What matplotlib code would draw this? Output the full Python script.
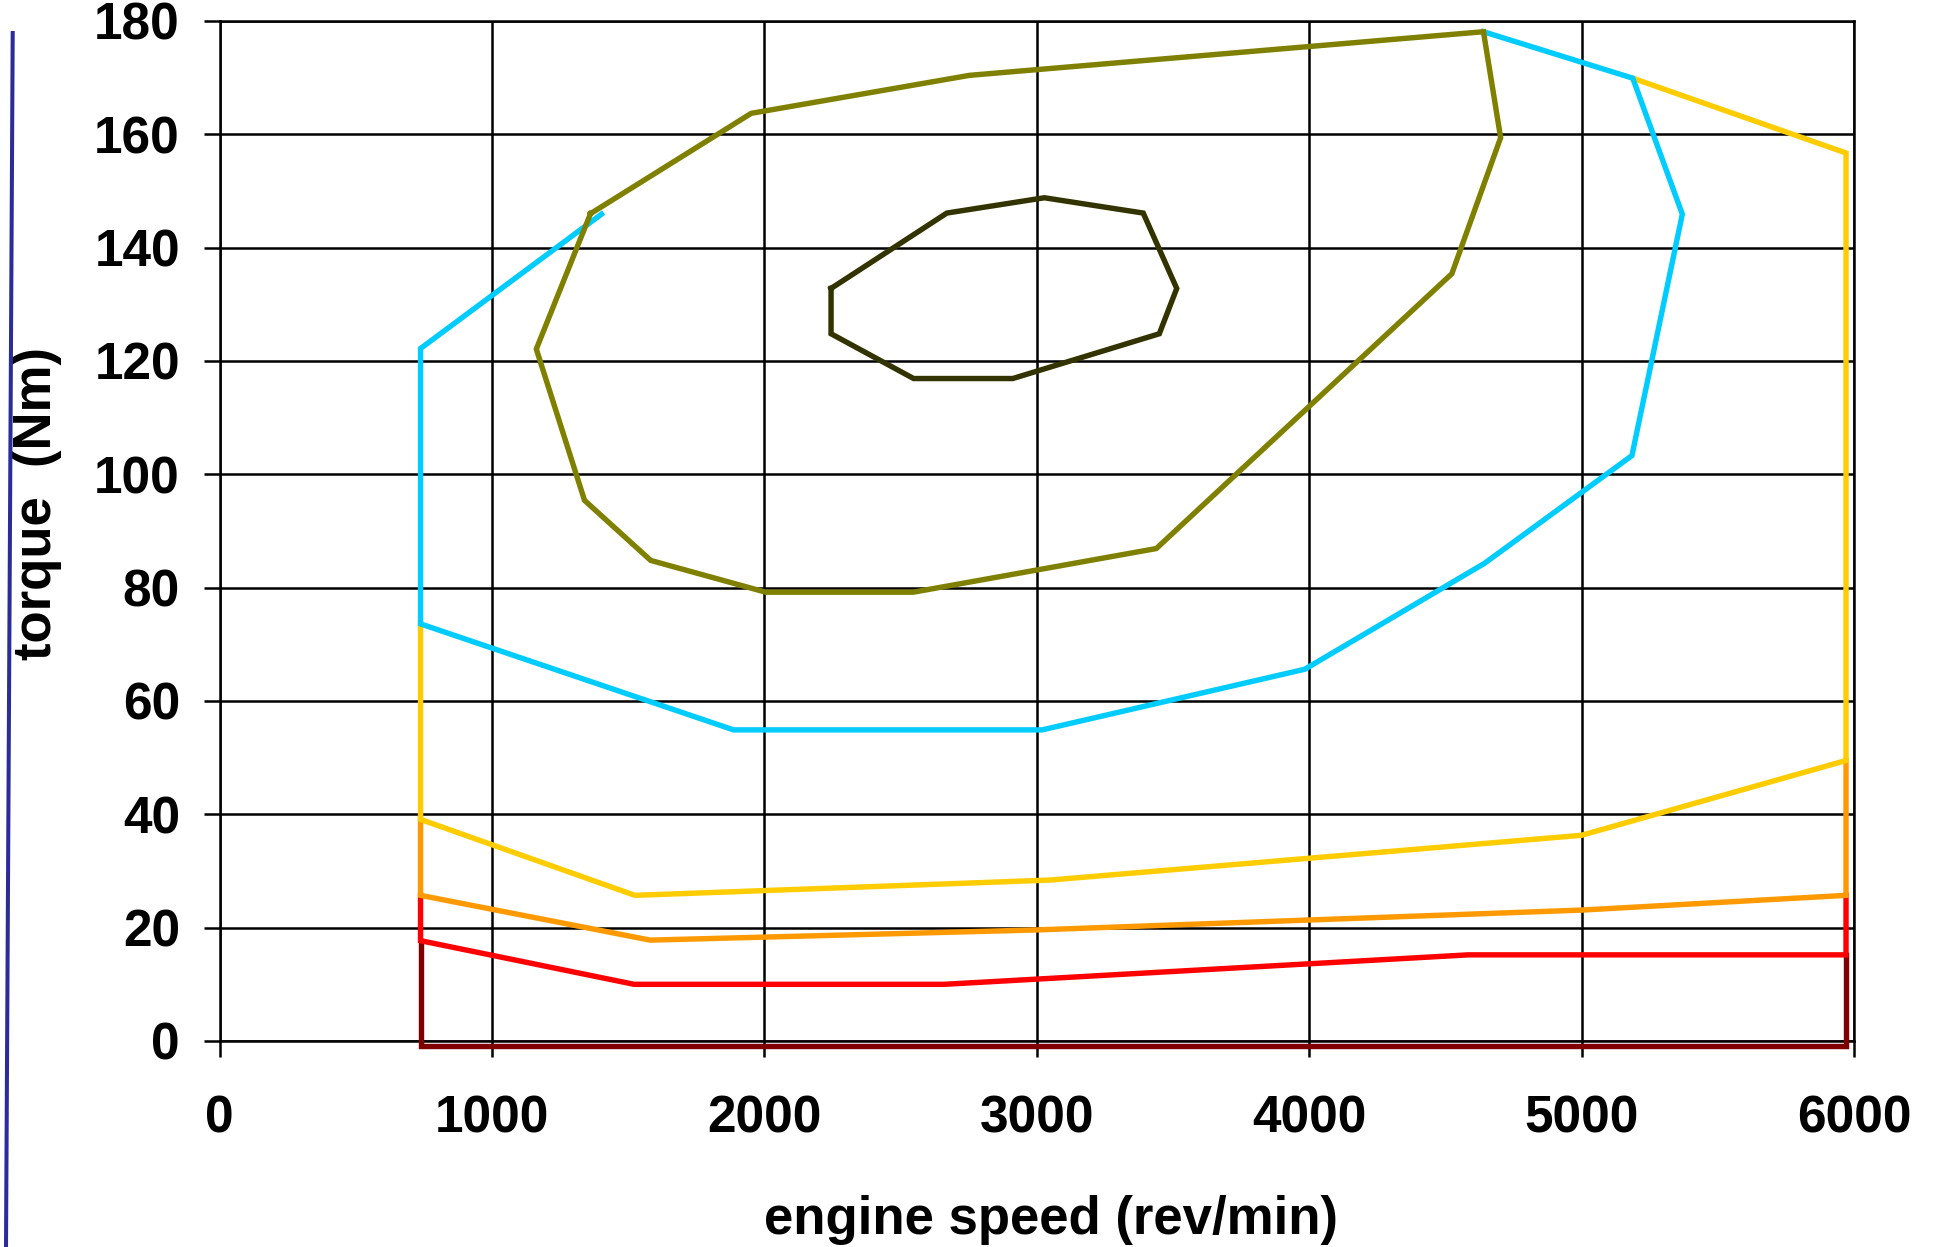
import matplotlib
matplotlib.use('Agg')
import matplotlib.pyplot as plt
from matplotlib.lines import Line2D

plt.rcParams['font.family'] = ['Liberation Sans', 'DejaVu Sans']
plt.rcParams['font.weight'] = 'bold'

# contour lines of the engine map, (speed rev/min, torque Nm)
dark_red_speed = [738, 738, 5971, 5971]
dark_red_torque = [17.7, -0.8, -0.8, 15.2]

red_speed = [738, 738, 1522, 2660, 4584, 5971, 5971]
red_torque = [25.7, 17.7, 10.0, 10.0, 15.2, 15.2, 25.7]

orange_speed = [738, 738, 1581, 3000, 5000, 5971, 5971]
orange_torque = [39.1, 25.7, 17.8, 19.6, 23.1, 25.7, 49.5]

yellow_speed = [738, 738, 1525, 3049, 5000, 5971, 5971, 5188]
yellow_torque = [73.6, 39.1, 25.7, 28.4, 36.3, 49.5, 156.7, 169.9]

cyan_speed = [1402, 738, 738, 1887, 3020, 3984, 4644, 5185, 5370, 5188, 4640]
cyan_torque = [145.9, 122.2, 73.6, 54.9, 54.9, 65.6, 84.3, 103.3, 145.9, 169.9, 178.1]

olive_speed = [1362, 1952, 2753, 4640, 4703, 4524, 3439, 2547, 2005, 1583, 1340, 1163, 1362]
olive_torque = [146.0, 163.7, 170.4, 178.1, 159.4, 135.4, 86.9, 79.2, 79.2, 84.8, 95.4, 122.1, 146.0]

inner_speed = [2245, 2245, 2548, 2912, 3450, 3514, 3391, 3028, 2670, 2245]
inner_torque = [132.8, 124.8, 116.9, 116.9, 124.8, 132.8, 146.1, 148.8, 146.1, 132.8]

x_ticks = [0, 1000, 2000, 3000, 4000, 5000, 6000]
y_ticks = [0, 20, 40, 60, 80, 100, 120, 140, 160, 180]

fig = plt.figure(figsize=(19.34, 12.47), dpi=100)
ax = fig.add_axes([0.1135, 0.1652, 0.8451, 0.8180])

lines = [
    (dark_red_speed, dark_red_torque, '#800000'),
    (red_speed, red_torque, '#FF0000'),
    (orange_speed, orange_torque, '#FF9900'),
    (yellow_speed, yellow_torque, '#FFCC00'),
    (cyan_speed, cyan_torque, '#00CCFF'),
    (olive_speed, olive_torque, '#808000'),
    (inner_speed, inner_torque, '#333300'),
]
for xs, ys, c in lines:
    ax.plot(xs, ys, color=c, lw=3.9, clip_on=False, zorder=3,
            solid_joinstyle='miter')

ax.set_xlim(0, 6000)
ax.set_ylim(0, 180)
ax.set_xticks(x_ticks)
ax.set_yticks(y_ticks)
ax.grid(True, color='black', lw=1.8)
ax.set_axisbelow(True)
for s in ax.spines.values():
    s.set_color('black')
    s.set_linewidth(1.8)

ax.tick_params(axis='both', direction='out', length=11.5, width=1.8,
               labelsize=37)
ax.tick_params(axis='x', pad=27)
ax.tick_params(axis='y', pad=17)
for lbl in ax.get_xticklabels() + ax.get_yticklabels():
    lbl.set_fontweight('bold')

ax.set_xlabel('engine speed (rev/min)', fontsize=38, fontweight='bold', va='center')
ax.xaxis.set_label_coords(0.5087, -0.1755)
ax.set_ylabel('torque  (Nm)', fontsize=38, fontweight='bold', va='center', ha='center')
ax.yaxis.set_label_coords(-0.1115, 0.527)

# slide decoration line at the left edge
fig.add_artist(Line2D([12.7 / 1934, 6 / 1934], [1 - 33 / 1247, 0],
                      transform=fig.transFigure, color='#2B2B99', lw=2.9))

fig.savefig('out.png', dpi=100)
